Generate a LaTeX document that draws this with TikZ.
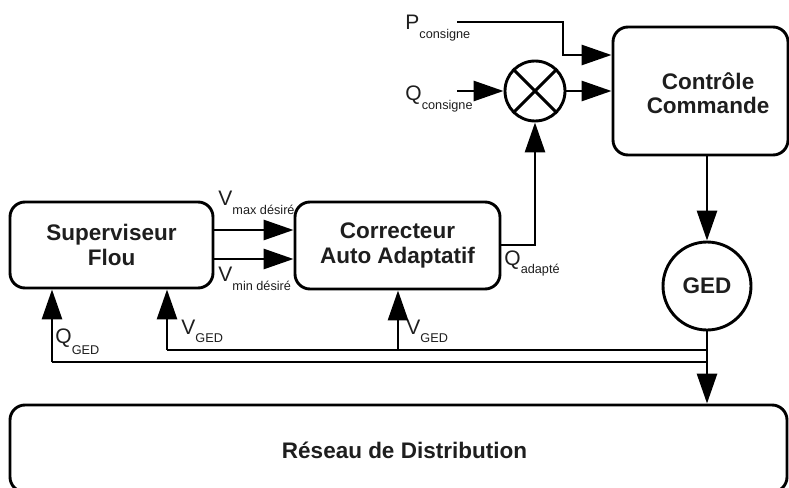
\documentclass[tikz,border=0pt]{standalone}
\usepackage{fontspec}
\setmainfont{Liberation Sans}
\usetikzlibrary{arrows.meta}
\definecolor{txt}{HTML}{1E1E1E}
\newcommand\sublab[3][8pt]{{\fontsize{21}{21}\selectfont #2}\raisebox{-#1}{\fontsize{12.7}{13}\selectfont #3}}
\begin{document}
\begin{tikzpicture}[x=1pt,y=-1pt,
  line width=2.9pt,
  arr/.style={-{Triangle[length=30pt,width=20pt]}},
  box/.style={draw,rounded corners=15pt,inner sep=0pt,text=txt,align=center,
    font=\fontsize{22.5}{24.5}\selectfont\bfseries},
  bigtext/.style={text=txt,align=center,inner sep=0pt,font=\fontsize{22.5}{24.5}\selectfont\bfseries},
  lab/.style={anchor=base west,inner sep=0pt,text=txt}]
\useasboundingbox (0,0) rectangle (789,487);
\clip (0,0) rectangle (789,487);
% blocks
\node[box,minimum width=203pt,minimum height=86pt] (sup) at (111.5,245) {Superviseur\\Flou};
\node[box,minimum width=205pt,minimum height=87pt] (cor) at (397.5,245.5) {Correcteur\\Auto Adaptatif};
\node[box,minimum width=175pt,minimum height=128pt] (cc) at (700.5,91) {};
\node[bigtext] (cctxt) at (708,93) {Contrôle\\Commande};
\node[draw,circle,minimum size=88pt,inner sep=0pt,text=txt,font=\fontsize{22.5}{24.5}\selectfont\bfseries] (ged) at (707,286) {GED};
\node[draw,circle,minimum size=60pt,inner sep=0pt] (sum) at (535,91) {};
\draw (sum.north west) -- (sum.south east) (sum.north east) -- (sum.south west);
\node[box,minimum width=777pt,minimum height=87pt] (res) at (398.5,448.5) {};
\node[bigtext] (restxt) at (404.5,450) {Réseau de Distribution};
% labels
\node[lab] (lp) at (404,30) {\sublab[9pt]{P}{consigne}};
\node[lab] (lq) at (404,100) {\sublab[9pt]{Q}{consigne}};
\node[lab] (lvmax) at (217,205) {\sublab[9pt]{V}{max désiré}};
\node[lab] (lvmin) at (217,281) {\sublab[9pt]{V}{min désiré}};
\node[lab] (lqa) at (503,265) {\sublab[8pt]{Q}{adapté}};
\node[lab] (lqg) at (54,343) {\sublab[11pt]{Q}{GED}};
\node[lab] (lvg1) at (180,334) {\sublab[8pt]{V}{GED}};
\node[lab] (lvg2) at (405,334) {\sublab[8pt]{V}{GED}};
% coordinates
\coordinate (ps) at (457,22);
\coordinate (pc) at (563,22);
\coordinate (qs) at (457,91);
\coordinate (qa) at (535,245);
\coordinate (vmx) at (0,230);
\coordinate (vmn) at (0,259);
\coordinate (pin) at (0,55);
\coordinate (e1) at (707,350);
\coordinate (e2) at (707,362);
\coordinate (j1) at (167,350);
\coordinate (j2) at (398,350);
\coordinate (j3) at (52,362);
% connectors
\draw[arr] (ps) -- (pc) |- (cc.west |- pin);
\draw[arr] (qs) -- (sum.west);
\draw[arr] (sum.east) -- (cc.west |- sum.east);
\draw[arr] (cor.east |- qa) -- (qa) -- (sum.south);
\draw[arr] (sup.east |- vmx) -- (cor.west |- vmx);
\draw[arr] (sup.east |- vmn) -- (cor.west |- vmn);
\draw[arr] (ged.north |- cc.south) -- (ged.north);
\draw[arr] (ged.south) -- (ged.south |- res.north);
\draw (e1) -- (j1);
\draw (e2) -- (j3);
\draw[arr] (j1) -- (j1 |- sup.south);
\draw[arr] (j2) -- (j2 |- cor.south);
\draw[arr] (j3) -- (j3 |- sup.south);
\end{tikzpicture}
\end{document}
